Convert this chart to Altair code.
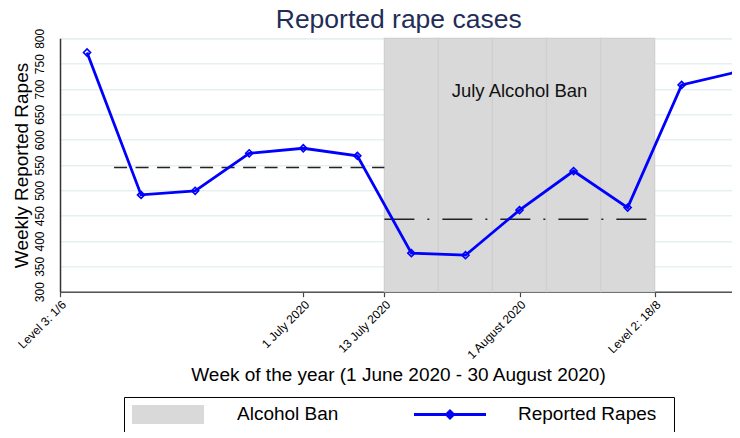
import altair as alt
import pandas as pd

# ---- data ----
weeks = [23, 24, 25, 26, 27, 28, 29, 30, 31, 32, 33, 34, 35]
rapes = [772, 491, 499, 573, 583, 568, 376, 372, 461, 538, 466, 708, 733]

ban_weeks = [29, 30, 31, 32, 33]

pre_mean_start, pre_mean_end, pre_mean_value = 23.5, 28.5, 545
ban_mean_start, ban_mean_end, ban_mean_value = 28.5, 33.5, 443

tick_pos = [22.5, 27, 28.5, 31, 33.5]
tick_labels = ["Level 3: 1/6", "1 July 2020", "13 July 2020", "1 August 2020", "Level 2: 18/8"]

y_ticks = [300, 350, 400, 450, 500, 550, 600, 650, 700, 750, 800]

annot_x, annot_y, annot_text = 31, 685, "July Alcohol Ban"

FONT = "Liberation Sans"

line_df = pd.DataFrame({"week": weeks, "rapes": rapes, "series": "Reported Rapes"})
ban_df = pd.DataFrame({
    "x0": [w - 0.5 for w in ban_weeks],
    "x1": [w + 0.5 for w in ban_weeks],
    "lo": 300, "hi": 800,
    "series": "Alcohol Ban",
})
pre_df = pd.DataFrame({"x0": [pre_mean_start], "x1": [pre_mean_end], "v": [pre_mean_value]})
banm_df = pd.DataFrame({"x0": [ban_mean_start], "x1": [ban_mean_end], "v": [ban_mean_value]})
annot_df = pd.DataFrame({"x": [annot_x], "y": [annot_y], "t": [annot_text]})

label_expr = "{" + ",".join(f"'{p}':'{l}'" for p, l in zip(tick_pos, tick_labels)) + "}[datum.value]"

W, H = 672, 253.4
xscale = alt.Scale(domain=[22.5, 22.5 + W / 54.06], nice=False, zero=False)
yscale = alt.Scale(domain=[300, 800], nice=False, zero=False)

x_axis = alt.Axis(
    values=tick_pos, labelExpr=label_expr, labelAngle=315, labelAlign="right",
    labelBaseline="top", labelFontSize=12, labelFont=FONT, labelColor="#000",
    labelOverlap=False,
    tickSize=5, tickColor="#444", tickWidth=1.2, domainColor="#555", domainWidth=1.5,
    grid=False, title="Week of the year (1 June 2020 - 30 August 2020)",
    titleFontSize=19, titleFont=FONT, titleFontWeight="normal", titleColor="#000",
    titleX=338, titleY=89, titleBaseline="alphabetic", titleAlign="center",
)
y_axis = alt.Axis(
    values=y_ticks, labelAngle=270, labelAlign="center", labelBaseline="alphabetic",
    labelPadding=17, labelOverlap=False, ticks=False, tickSize=0, labelFontSize=12,
    labelFont=FONT, labelColor="#000", domainColor="#333", domainWidth=1.5,
    grid=True, gridColor="#e6eff1", gridWidth=1.5,
    title="Weekly Reported Rapes", titleFontSize=19, titleFont=FONT,
    titleFontWeight="normal", titleColor="#000", titleAngle=270,
    titleX=-32.5, titleY=H / 2, titleAlign="center", titleBaseline="alphabetic",
)


def X(field):
    return alt.X(field, scale=xscale, axis=x_axis)


def Y(field):
    return alt.Y(field, scale=yscale, axis=y_axis)


# legend for the ban band (its framed box is widened to span both legend entries)
legend_band = alt.Legend(
    title=None, orient="none", legendX=64, legendY=358.7,
    strokeColor="#000", padding=8, fillColor="white",
    labelFont=FONT, labelFontSize=19, labelColor="#000", labelOffset=33,
    labelExpr="datum.label + '" + " " * 62 + "\u200b'", labelLimit=1000,
    symbolType="M-1,-0.264H1V0.264H-1Z", symbolSize=5184, clipHeight=19,
    symbolStrokeWidth=0, symbolStrokeColor="transparent", symbolOpacity=1,
)
legend_line = alt.Legend(
    title=None, orient="none", legendX=344.5, legendY=358.7, padding=8,
    labelFont=FONT, labelFontSize=19, labelColor="#000", labelOffset=30.5,
    symbolType="M-1,0H1M0,-0.1L0.1,0L0,0.1L-0.1,0Z", symbolSize=5184, clipHeight=19,
    symbolStrokeWidth=2.8, symbolFillColor="transparent", symbolOpacity=1,
)

band = alt.Chart(ban_df).mark_rect(stroke="#cfcfcf", strokeWidth=1.2).encode(
    x=X("x0:Q"), x2="x1:Q",
    y=Y("lo:Q"), y2="hi:Q",
    fill=alt.Fill("series:N", scale=alt.Scale(domain=["Alcohol Ban"], range=["#d9d9d9"]),
                  legend=legend_band),
)

pre_rule = alt.Chart(pre_df).mark_rule(color="#222", strokeWidth=1.6, strokeDash=[13, 8.5]).encode(
    x=X("x0:Q"), x2="x1:Q", y=Y("v:Q")
)
ban_rule = alt.Chart(banm_df).mark_rule(color="#222", strokeWidth=1.6, strokeDash=[30, 13, 2, 13]).encode(
    x=X("x0:Q"), x2="x1:Q", y=Y("v:Q")
)

line = alt.Chart(line_df).mark_line(
    strokeWidth=2.8,
    point=alt.OverlayMarkDef(shape="diamond", filled=False, size=50, strokeWidth=1.6),
).encode(
    x=X("week:Q"),
    y=Y("rapes:Q"),
    stroke=alt.Stroke("series:N", scale=alt.Scale(domain=["Reported Rapes"], range=["#0000ff"]),
                      legend=legend_line),
)

annot = alt.Chart(annot_df).mark_text(
    font=FONT, fontSize=18.5, color="#111", baseline="alphabetic", align="center"
).encode(
    x=X("x:Q"), y=Y("y:Q"), text="t:N"
)

chart = alt.layer(band, pre_rule, ban_rule, line, annot).properties(
    width=W, height=H,
    title=alt.TitleParams(
        "Reported rape cases", fontSize=26.5, font=FONT, fontWeight="normal",
        color="#1f2d57", anchor="middle", baseline="alphabetic", offset=0, frame="group",
        dx=2.7, dy=26,
    ),
    autosize=alt.AutoSizeParams(type="none"),
    padding={"left": 52, "top": 30.3, "right": 0, "bottom": 140},
).configure_view(stroke=None).configure(font=FONT)

chart.save("out.html", embed_options={"renderer": "svg", "actions": False})
